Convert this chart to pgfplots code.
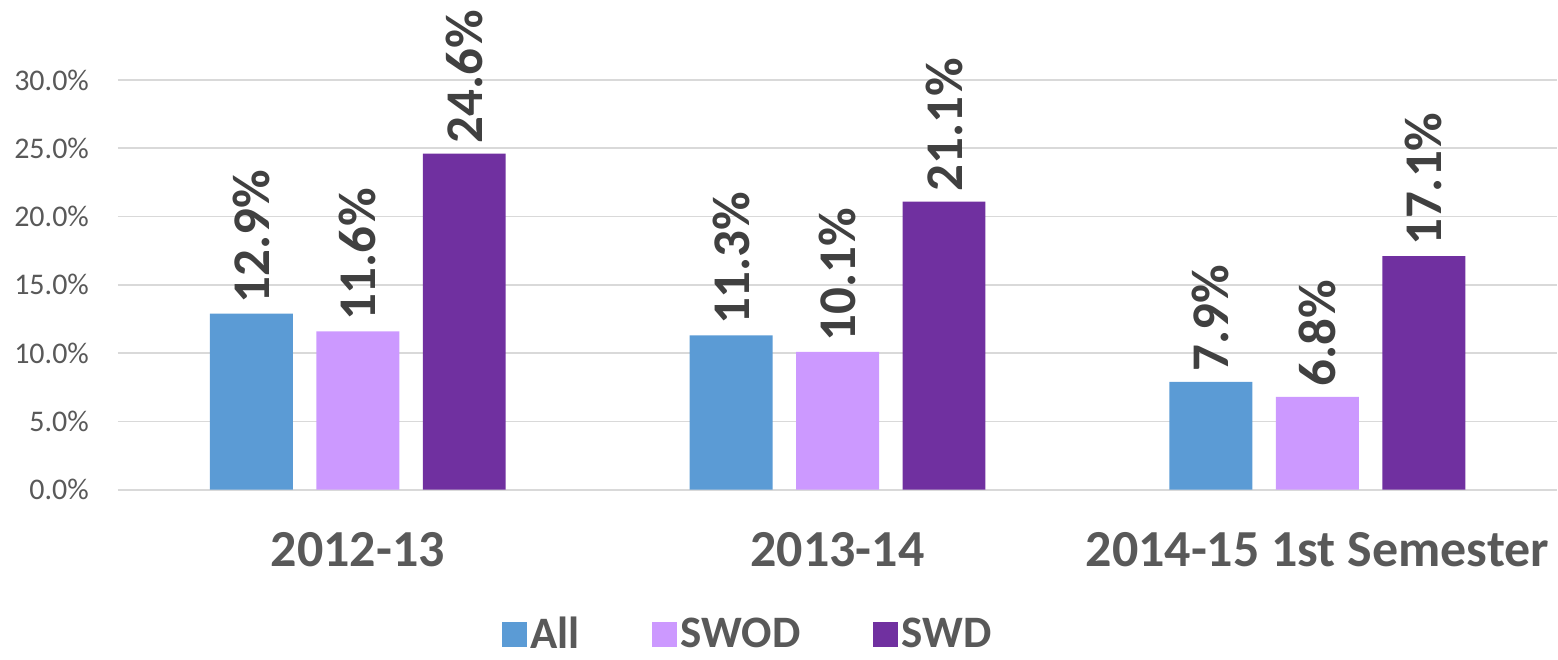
\documentclass[border=0pt]{standalone}
\usepackage{pgfplots}
\pgfplotsset{compat=1.18}
\usepackage{fontspec}
\setmainfont{Carlito}
\definecolor{cAll}{HTML}{5B9BD5}
\definecolor{cSWOD}{HTML}{CC99FF}
\definecolor{cSWD}{HTML}{7030A0}
\definecolor{gridc}{HTML}{D9D9D9}
\definecolor{tickc}{HTML}{595959}
\definecolor{labc}{HTML}{404040}
\begin{document}
\begin{tikzpicture}
\begin{axis}[
  scale only axis,
  width=720pt, height=205pt,
  ymin=0, ymax=30,
  xmin=-0.5, xmax=2.5,
  ybar=11.75pt,
  bar width=41.5pt,
  clip=false,
  axis line style={draw=none},
  axis x line*=bottom,
  ytick={0,5,...,30},
  ymajorgrids,
  grid style={gridc, line width=0.8pt},
  major tick length=0pt,
  xtick={0,1,2},
  xticklabels={2012-13,2013-14,2014-15 1st Semester},
  x tick label style={font=\fontsize{26}{30}\selectfont\bfseries, text=tickc, yshift=-18pt},
  y tick label style={font=\fontsize{15}{18}\selectfont, text=tickc, xshift=-11pt},
  /pgf/number format/assume math mode=true,
  yticklabel={\pgfmathprintnumber[fixed,fixed zerofill,precision=1]{\tick}\%},
  nodes near coords={\pgfmathprintnumber[fixed,fixed zerofill,precision=1]{\pgfplotspointmeta}\%},
  nodes near coords style={rotate=90, anchor=west, font=\fontsize{26.5}{30}\selectfont\bfseries, text=labc, inner xsep=5pt},
  legend style={at={(0.5,-0.29)}, xshift=-44.5pt, anchor=north, draw=none, font=\fontsize{22.5}{26}\selectfont\bfseries, text=tickc, legend columns=3,
    /tikz/every even column/.append style={column sep=34pt}},
  legend image code/.code={\fill[#1] (0pt,-6.25pt) rectangle (12.5pt,6.25pt);},
]
\addplot[fill=cAll, draw=none] coordinates {(0,12.9) (1,11.3) (2,7.9)};
\addplot[fill=cSWOD, draw=none] coordinates {(0,11.6) (1,10.1) (2,6.8)};
\addplot[fill=cSWD, draw=none] coordinates {(0,24.6) (1,21.1) (2,17.1)};
\legend{All,SWOD,SWD}
\end{axis}
\path (current axis.south west) ++(-59pt,0pt);
\end{tikzpicture}
\end{document}
